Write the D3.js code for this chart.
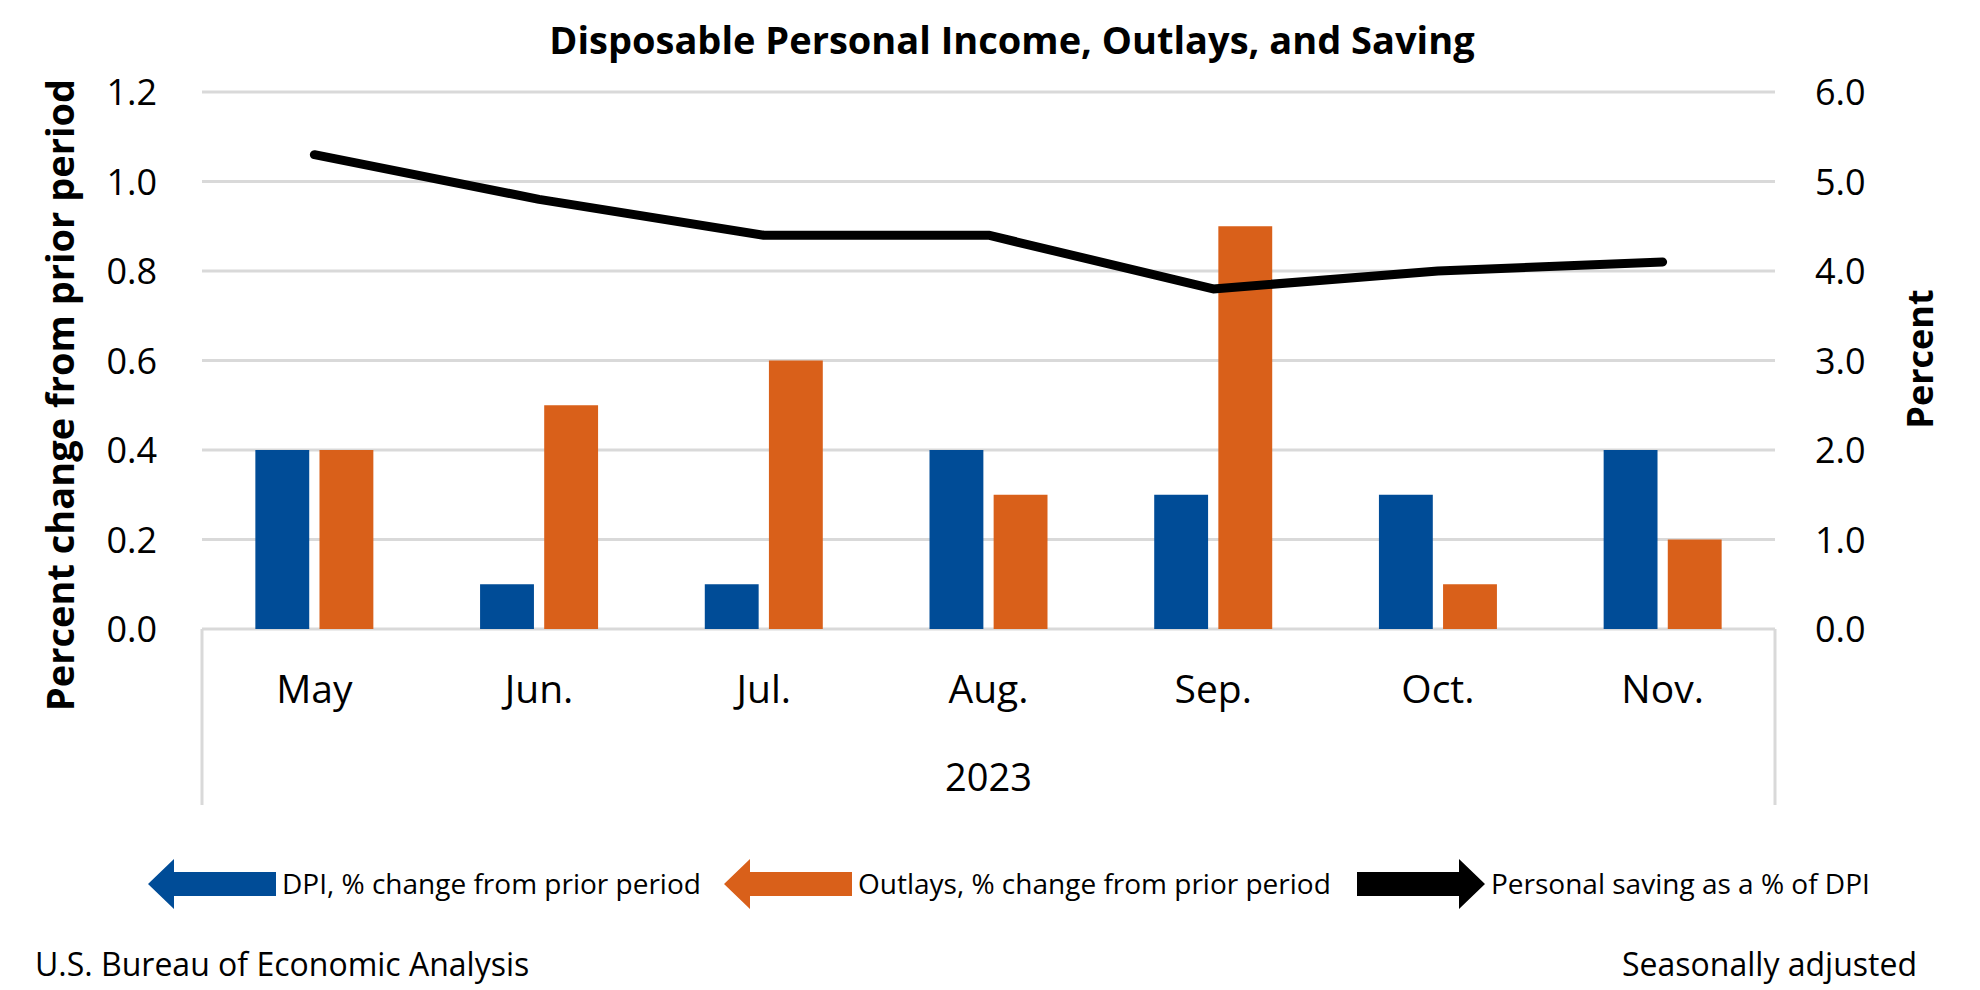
<!DOCTYPE html>
<html>
<head>
<meta charset="utf-8">
<script src="https://cdn.jsdelivr.net/npm/d3@7"></script>
<style>
  body { margin: 0; background: #fff; }
  svg { display: block; font-family: "Open Sans", sans-serif; }
</style>
</head>
<body>
<svg id="chart"></svg>
<script>
// data
const months = ["May", "Jun.", "Jul.", "Aug.", "Sep.", "Oct.", "Nov."];
const dpiChange = [0.4, 0.1, 0.1, 0.4, 0.3, 0.3, 0.4];
const outlaysChange = [0.4, 0.5, 0.6, 0.3, 0.9, 0.1, 0.2];
const savingRate = [5.3, 4.8, 4.4, 4.4, 3.8, 4.0, 4.1];
const leftTicks = [0, 0.2, 0.4, 0.6, 0.8, 1.0, 1.2];
const rightTicks = [0, 1, 2, 3, 4, 5, 6];
const yearLabel = "2023";

const W = 1980, H = 990;
const plot = { left: 202, right: 1775, top: 92, bottom: 629, axisBottom: 805 };
const blue = "#004c97", orange = "#d9601a", grid = "#d9d9d9";

const svg = d3.select("#chart").attr("width", W).attr("height", H);

const x = d3.scaleBand().domain(months).range([plot.left, plot.right]);
const sub = d3.scaleBand().domain(["dpi", "outlays"]).range([-59, 59]).paddingInner(0.16);
const yL = d3.scaleLinear().domain([0, 1.2]).range([plot.bottom, plot.top]);
const yR = d3.scaleLinear().domain([0, 6]).range([plot.bottom, plot.top]);

// gridlines
svg.append("g").selectAll("line").data(leftTicks).enter().append("line")
  .attr("x1", plot.left).attr("x2", plot.right)
  .attr("y1", d => yL(d)).attr("y2", d => yL(d))
  .attr("stroke", grid).attr("stroke-width", 3);

// category axis edge lines
svg.append("g").selectAll("line").data([plot.left, plot.right]).enter().append("line")
  .attr("x1", d => d).attr("x2", d => d)
  .attr("y1", plot.bottom).attr("y2", plot.axisBottom)
  .attr("stroke", grid).attr("stroke-width", 3);

// bars
const bars = svg.append("g");
bars.selectAll(".dpi").data(months).enter().append("rect")
  .attr("x", (m) => x(m) + x.bandwidth() / 2 + sub("dpi"))
  .attr("width", sub.bandwidth())
  .attr("y", (m, i) => yL(dpiChange[i]))
  .attr("height", (m, i) => yL(0) - yL(dpiChange[i]))
  .attr("fill", blue);
bars.selectAll(".out").data(months).enter().append("rect")
  .attr("x", (m) => x(m) + x.bandwidth() / 2 + sub("outlays"))
  .attr("width", sub.bandwidth())
  .attr("y", (m, i) => yL(outlaysChange[i]))
  .attr("height", (m, i) => yL(0) - yL(outlaysChange[i]))
  .attr("fill", orange);

// saving line
const line = d3.line().x((d, i) => x(months[i]) + x.bandwidth() / 2).y(d => yR(d));
svg.append("path").datum(savingRate)
  .attr("d", line).attr("fill", "none").attr("stroke", "#000")
  .attr("stroke-width", 9).attr("stroke-linecap", "round").attr("stroke-linejoin", "round");

// axes
const fmt = d3.format(".1f");
const leftAxis = svg.append("g").attr("transform", `translate(${plot.left},0)`)
  .call(d3.axisLeft(yL).tickValues(leftTicks).tickFormat(fmt).tickSize(0).tickPadding(45));
const rightAxis = svg.append("g").attr("transform", `translate(${plot.right},0)`)
  .call(d3.axisRight(yR).tickValues(rightTicks).tickFormat(fmt).tickSize(0).tickPadding(40));
[leftAxis, rightAxis].forEach(a => {
  a.select(".domain").remove();
  a.selectAll("text").attr("font-family", "Open Sans").attr("font-size", 36).attr("fill", "#000").attr("dy", "0.36em");
});

// month + year labels
svg.append("g").selectAll("text").data(months).enter().append("text")
  .attr("x", m => x(m) + x.bandwidth() / 2).attr("y", 703)
  .attr("text-anchor", "middle").attr("font-size", 39).text(m => m);
svg.append("text").attr("x", (plot.left + plot.right) / 2).attr("y", 791)
  .attr("text-anchor", "middle").attr("font-size", 38).text(yearLabel);

// titles
svg.append("text").attr("x", 1012).attr("y", 54).attr("text-anchor", "middle")
  .attr("font-size", 38).attr("font-weight", "bold").text("Disposable Personal Income, Outlays, and Saving");
svg.append("text").attr("transform", "translate(74,395) rotate(-90)").attr("text-anchor", "middle")
  .attr("font-size", 38).attr("font-weight", "bold").text("Percent change from prior period");
svg.append("text").attr("transform", "translate(1933,359) rotate(-90)").attr("text-anchor", "middle")
  .attr("font-size", 36).attr("font-weight", "bold").text("Percent");

// legend
const legendItems = [
  { label: "DPI, % change from prior period", color: blue, dir: "left", x0: 148 },
  { label: "Outlays, % change from prior period", color: orange, dir: "left", x0: 724 },
  { label: "Personal saving as a % of DPI", color: "#000", dir: "right", x0: 1357 }
];
const arrowLen = 128, headLen = 26, cy = 884;
const lg = svg.append("g").selectAll("g").data(legendItems).enter().append("g");
lg.append("path").attr("fill", d => d.color).attr("d", d => {
  const a = d.x0, b = d.x0 + arrowLen;
  if (d.dir === "left") {
    return `M${a},${cy} L${a + headLen},${cy - 25} L${a + headLen},${cy - 12} L${b},${cy - 12} L${b},${cy + 12} L${a + headLen},${cy + 12} L${a + headLen},${cy + 25} Z`;
  }
  return `M${b},${cy} L${b - headLen},${cy - 25} L${b - headLen},${cy - 12} L${a},${cy - 12} L${a},${cy + 12} L${b - headLen},${cy + 12} L${b - headLen},${cy + 25} Z`;
});
lg.append("text").attr("x", d => d.x0 + arrowLen + 6).attr("y", 894)
  .attr("font-size", 28).text(d => d.label);

// footer
svg.append("text").attr("x", 35).attr("y", 976).attr("font-size", 32).text("U.S. Bureau of Economic Analysis");
svg.append("text").attr("x", 1917).attr("y", 976).attr("text-anchor", "end").attr("font-size", 32).text("Seasonally adjusted");
</script>
</body>
</html>
